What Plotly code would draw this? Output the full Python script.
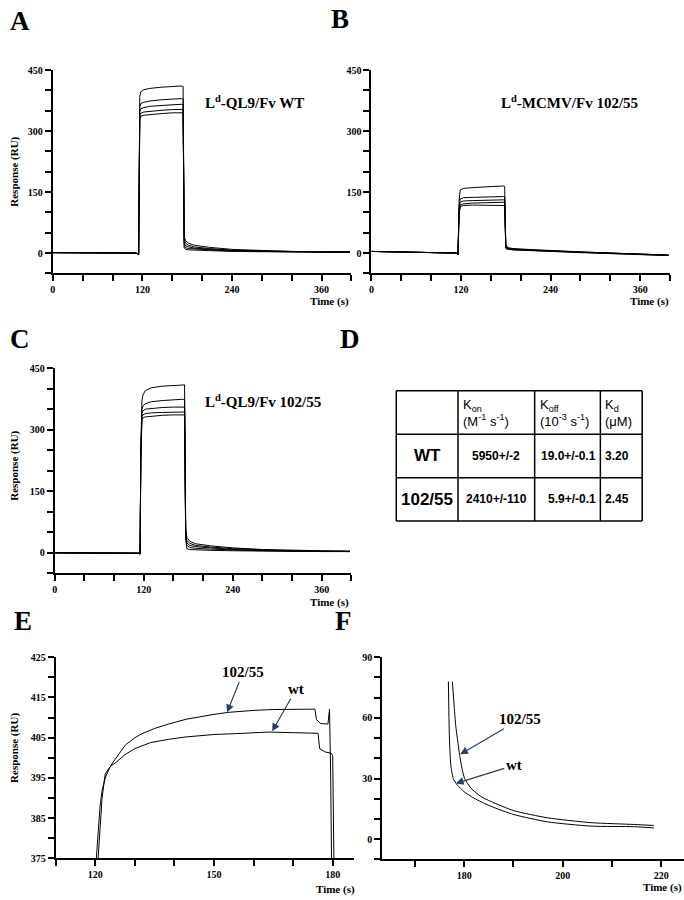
import plotly.graph_objects as go

W, H = 684, 900

# ---------------- data ----------------
# Panel A: Ld-QL9 / Fv WT (5 concentrations)
tA = [0, 40, 80, 110, 113, 115, 116.5, 118, 122, 130, 145, 160, 172, 174.5, 176, 178, 182, 190, 210, 240, 280, 320, 360, 398]
A1 = [1, 1, 0, 0, -1, -4, 385, 397, 402, 405, 408, 410, 411, 410, 40, 30, 24, 19, 14, 9, 6, 4, 3, 3]
A2 = [1, 1, 0, 0, -1, -4, 360, 368, 371, 374, 377, 379, 380, 379, 32, 24, 19, 15, 11, 7, 5, 4, 3, 3]
A3 = [1, 1, 0, 0, -1, -4, 348, 355, 358, 361, 363, 365, 366, 365, 25, 18, 15, 12, 9, 6, 4, 3, 3, 2]
A4 = [1, 1, 0, 0, -1, -4, 338, 344, 347, 349, 351, 353, 354, 353, 18, 13, 11, 10, 8, 5, 4, 3, 2, 2]
A5 = [1, 1, 0, 0, -1, -4, 330, 337, 339, 341, 343, 345, 346, 345, 12, 9, 8, 7, 6, 4, 3, 2, 2, 2]

# Panel B: Ld-MCMV / Fv 102/55
tB = [0, 40, 80, 110, 114, 116, 117.5, 119, 123, 135, 150, 165, 177, 178.5, 180, 183, 190, 210, 240, 280, 320, 360, 398]
B1 = [4, 3, 2, 1, 0, -4, 130, 155, 159, 161, 163, 164, 165, 164, 20, 13, 11, 9, 6, 3, 0, -3, -5]
B2 = [4, 3, 2, 1, 0, -4, 115, 133, 136, 137, 138, 139, 139, 138, 17, 12, 10, 8, 5, 2, 0, -3, -5]
B3 = [4, 3, 2, 1, 0, -4, 108, 125, 128, 129, 130, 131, 131, 130, 15, 11, 9, 7, 5, 2, -1, -3, -5]
B4 = [4, 3, 2, 1, 0, -4, 100, 118, 121, 123, 124, 125, 126, 125, 13, 10, 8, 7, 4, 2, -1, -3, -6]
B5 = [4, 3, 2, 1, 0, -4, 95, 114, 117, 118, 118, 118, 118, 117, 11, 9, 8, 6, 4, 1, -1, -4, -6]

# Panel C: Ld-QL9 / Fv 102/55
tC = [0, 40, 80, 110, 113, 115, 116, 117.5, 119, 122, 130, 145, 160, 172, 175, 176.5, 178, 182, 190, 210, 240, 280, 320, 360, 398]
C1 = [0, 0, 0, 0, -1, -3, 250, 370, 385, 395, 402, 406, 408, 409, 409, 60, 38, 28, 22, 17, 12, 8, 6, 5, 4]
C2 = [0, 0, 0, 0, -1, -3, 240, 350, 358, 363, 368, 371, 373, 374, 373, 50, 30, 23, 18, 14, 10, 7, 5, 4, 4]
C3 = [0, 0, 0, 0, -1, -3, 235, 340, 346, 350, 352, 354, 355, 356, 355, 45, 24, 18, 15, 12, 8, 6, 5, 4, 3]
C4 = [0, 0, 0, 0, -1, -3, 230, 332, 336, 339, 341, 342, 343, 344, 343, 40, 18, 13, 11, 9, 7, 5, 4, 3, 3]
C5 = [0, 0, 0, 0, -1, -3, 225, 325, 329, 331, 333, 335, 336, 337, 336, 35, 10, 8, 7, 6, 5, 4, 3, 3, 3]

# Panel E: association phase, zoomed
tE_mut = [120.25, 120.7, 121.2, 121.7, 122.5, 123.5, 124.2, 126, 127.6, 130, 131.8, 135, 138.5, 143, 146.9, 150, 153.6, 157, 160.3, 165, 169.6, 173, 175.5, 175.9, 177, 178.8, 179.2, 179.5, 179.7]
E_mut = [375, 382, 388, 391.8, 395, 397.3, 398.5, 401, 403.2, 405, 406, 407.3, 408.4, 409.6, 410.3, 410.8, 411.3, 411.6, 411.8, 412, 412.1, 412, 412.1, 409.5, 408.5, 408.4, 412.1, 395, 375]
tE_wt = [120.7, 121.2, 121.7, 122.5, 123.5, 124.2, 125, 127.5, 130, 134, 138.5, 143, 146.9, 150, 155.3, 160, 163.7, 168, 172.1, 176.3, 176.7, 178, 179.7, 180.0, 180.3]
E_wt = [375, 383, 390, 396, 397.5, 398.2, 398.7, 400.8, 402.3, 403.8, 404.6, 405.2, 405.6, 405.8, 406, 406.2, 406.4, 406.3, 406.2, 406.1, 402.3, 401.5, 401.1, 400.5, 375]

# Panel F: dissociation phase, zoomed
tF_mut = [177.6, 178.0, 178.3, 179.0, 179.5, 180.1, 181.4, 183.4, 185.4, 190.1, 196.9, 205.7, 214.5, 218.5]
F_mut = [78, 65, 56, 43, 35.7, 30, 25.2, 21.1, 18.7, 14.1, 10.6, 8.2, 7.3, 6.8]
tF_wt = [176.8, 177.0, 177.3, 177.8, 178.6, 180.0, 182.0, 185.4, 190.1, 196.9, 205.7, 214.5, 218.5]
F_wt = [78, 51, 36.5, 30, 26.8, 23.5, 20.3, 16.3, 12.2, 8.6, 6.5, 6.2, 5.6]

# Panel D: kinetic table
table_header = ["", "K<sub>on</sub><br>(M<sup>-1</sup> s<sup>-1</sup>)",
                "K<sub>off</sub><br>(10<sup>-3</sup> s<sup>-1</sup>)", "K<sub>d</sub><br>(\u03bcM)"]
table_rows = ["WT", "102/55"]
kon_vals = ["5950+/-2", "2410+/-110"]
koff_vals = ["19.0+/-0.1", "5.9+/-0.1"]
kd_vals = ["3.20", "2.45"]

# ---------------- figure ----------------
def px(x):
    return x / W


def py(y):
    return 1 - y / H


SERIF = "Liberation Serif"
SANS = "Liberation Sans"
tickfont = dict(family=SERIF, size=10, color="black", weight="bold")

fig = go.Figure()

line = dict(color="black", width=1)
for ys in (A1, A2, A3, A4, A5):
    fig.add_trace(go.Scatter(x=tA, y=ys, mode="lines", line=line, xaxis="x", yaxis="y"))
for ys in (B1, B2, B3, B4, B5):
    fig.add_trace(go.Scatter(x=tB, y=ys, mode="lines", line=line, xaxis="x2", yaxis="y2"))
for ys in (C1, C2, C3, C4, C5):
    fig.add_trace(go.Scatter(x=tC, y=ys, mode="lines", line=line, xaxis="x3", yaxis="y3"))
fig.add_trace(go.Scatter(x=tE_mut, y=E_mut, mode="lines", line=line, xaxis="x4", yaxis="y4"))
fig.add_trace(go.Scatter(x=tE_wt, y=E_wt, mode="lines", line=line, xaxis="x4", yaxis="y4"))
spl = dict(color="black", width=1, shape="spline", smoothing=0.6)
fig.add_trace(go.Scatter(x=tF_mut, y=F_mut, mode="lines", line=spl, xaxis="x5", yaxis="y5"))
fig.add_trace(go.Scatter(x=tF_wt, y=F_wt, mode="lines", line=spl, xaxis="x5", yaxis="y5"))


def ax(domain, rng, dtick, tick0, minor, anchor):
    return dict(
        domain=domain, range=rng, tickmode="linear", dtick=dtick, tick0=tick0,
        ticks="outside", ticklen=6, tickwidth=2, tickcolor="black",
        showline=True, linewidth=2, linecolor="black", showgrid=False, zeroline=False,
        tickfont=tickfont, anchor=anchor, fixedrange=True, ticklabelstandoff=0,
        minor=dict(dtick=minor, tick0=tick0, ticks="outside", ticklen=6, tickwidth=2,
                   tickcolor="black", showgrid=False),
    )


layout = dict(
    width=W, height=H, margin=dict(l=0, r=0, t=0, b=0),
    paper_bgcolor="white", plot_bgcolor="white", showlegend=False,
    xaxis=ax([px(50), px(350)], [0, 400], 120, 0, 40, "y"),
    yaxis=ax([py(271), py(65)], [-50, 450], 150, 0, 50, "x"),
    xaxis2=ax([px(370), px(670)], [0, 400], 120, 0, 40, "y2"),
    yaxis2=ax([py(271), py(65)], [-50, 450], 150, 0, 50, "x2"),
    xaxis3=ax([px(52), px(350)], [0, 400], 120, 0, 40, "y3"),
    yaxis3=ax([py(575), py(367)], [-50, 450], 150, 0, 50, "x3"),
    xaxis4=ax([px(53), px(353)], [110, 185.5], 30, 120, 10, "y4"),
    yaxis4=ax([py(864), py(660)], [375, 425], 10, 375, 5, "x4"),
    xaxis5=ax([px(381), px(684)], [163.4, 224.6], 20, 180, 10, "y5"),
    yaxis5=ax([py(865), py(660)], [-10, 90], 30, 0, 10, "x5"),
)
fig.update_layout(**layout)

annotations = []


def ann(text, x, y, size=10, family=SERIF, weight="bold", angle=0, xanchor="center",
        yanchor="middle", align="center"):
    annotations.append(dict(text=text, x=px(x), y=py(y), xref="paper", yref="paper",
                            showarrow=False, textangle=angle, xanchor=xanchor, yanchor=yanchor,
                            align=align,
                            font=dict(family=family, size=size, color="black", weight=weight)))


# panel letters
for letter, (lx, ly) in {"A": (17, 15), "B": (338, 13), "C": (17, 338), "D": (349, 337),
                         "E": (20, 623), "F": (342, 623)}.items():
    ann(letter, lx, ly, size=27)

# axis titles
for yy in (168, 466, 752):
    ann("Response (RU)", 12, yy, size=11, angle=-90)
for (tx, ty) in ((350, 300), (671, 300), (350, 605), (356, 895), (684, 893)):
    ann("Time (s)", tx, ty, size=11, xanchor="right")

# panel titles
ann("L<sup>d</sup>-QL9/Fv WT", 253, 97, size=15, weight="bold")
ann("L<sup>d</sup>-MCMV/Fv 102/55", 569, 97, size=15, weight="bold")
ann("L<sup>d</sup>-QL9/Fv 102/55", 261, 400, size=15, weight="bold")

# table (panel D)
col_x = [395, 457, 534, 600, 642]
row_y = [390, 434, 478, 522]
shapes = []
for cx in col_x:
    shapes.append(dict(type="line", xref="paper", yref="paper", x0=px(cx), x1=px(cx),
                       y0=py(row_y[0]), y1=py(row_y[-1]), line=dict(color="black", width=1.5)))
for ry in row_y:
    shapes.append(dict(type="line", xref="paper", yref="paper", x0=px(col_x[0]), x1=px(col_x[-1]),
                       y0=py(ry), y1=py(ry), line=dict(color="black", width=1.5)))

for i, h in enumerate(table_header):
    if h:
        ann(h, col_x[i] + 3, (row_y[0] + row_y[1]) / 2, size=13, family=SANS, weight="normal",
            xanchor="left", align="left")
row_centers = [(row_y[1] + row_y[2]) / 2, (row_y[2] + row_y[3]) / 2]
for r, name in enumerate(table_rows):
    ann(name, (col_x[0] + col_x[1]) / 2, row_centers[r], size=17, family=SANS)
    ann(kon_vals[r], (col_x[1] + col_x[2]) / 2, row_centers[r], size=12, family=SANS)
    ann(koff_vals[r], col_x[3] - 2, row_centers[r], size=12, family=SANS, xanchor="right")
    ann(kd_vals[r], col_x[3] + 3, row_centers[r], size=12, family=SANS, xanchor="left")

# arrows in E and F
arrow_font = dict(family=SERIF, size=15, color="black", weight="bold")
annotations += [
    dict(text="102/55", x=153.3, y=411.3, xref="x4", yref="y4", ax=16, ay=-40,
         showarrow=True, arrowhead=2, arrowsize=1.3, arrowwidth=1.2, font=arrow_font),
    dict(text="wt", x=164.7, y=406.6, xref="x4", yref="y4", ax=24, ay=-42,
         showarrow=True, arrowhead=2, arrowsize=1.3, arrowwidth=1.2, font=arrow_font),
    dict(text="102/55", x=179.2, y=42, xref="x5", yref="y5", ax=60, ay=-35,
         showarrow=True, arrowhead=2, arrowsize=1.3, arrowwidth=1.2, font=arrow_font),
    dict(text="wt", x=178.3, y=27.6, xref="x5", yref="y5", ax=58, ay=-18,
         showarrow=True, arrowhead=2, arrowsize=1.3, arrowwidth=1.2, font=arrow_font),
]

fig.update_layout(annotations=annotations, shapes=shapes)
fig.write_html("out.html", config={"displayModeBar": False},
               post_script="document.body.style.margin='0';document.body.style.overflow='hidden';")
